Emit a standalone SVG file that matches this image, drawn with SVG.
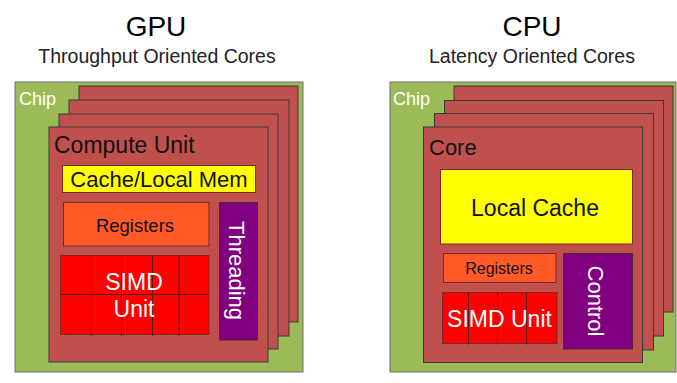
<svg xmlns="http://www.w3.org/2000/svg" width="677" height="383" viewBox="0 0 677 383">
  <style>
    text { font-family: "Liberation Sans", Arial, sans-serif; }
    .title { font-size: 28px; fill: #000; text-anchor: middle; }
    .sub { font-size: 19.5px; fill: #222; text-anchor: middle; }
    .chip { fill: #9BBB59; stroke: #6f6f6f; stroke-width: 1; }
    .chipLbl { font-size: 18px; fill: #fff; }
    .card { fill: #C0504D; stroke: #3a3a3a; stroke-width: 1; }
    .unitLbl { font-size: 22px; fill: #111; }
    .cache { fill: #FFFF00; stroke: #7a2a22; stroke-width: 1; }
    .regs { fill: #FF5A28; stroke: #7a2a22; stroke-width: 1; }
    .simd { fill: #FF0000; stroke: #7a2a22; stroke-width: 1; }
    .grid { stroke: #5a1a14; stroke-width: 1; fill: none; }
    .ctl { fill: #800080; stroke: #4a2a3a; stroke-width: 1; }
    .dark { fill: #111; text-anchor: middle; }
    .light { fill: #fff; text-anchor: middle; }
  </style>

  <!-- Headings -->
  <g id="gpu-title">
    <text class="title" x="156" y="36">GPU</text>
    <text class="sub" x="157" y="63">Throughput Oriented Cores</text>
  </g>
  <g id="cpu-title">
    <text class="title" x="532" y="36">CPU</text>
    <text class="sub" x="532" y="63">Latency Oriented Cores</text>
  </g>

  <!-- GPU chip -->
  <g id="gpu-chip">
    <rect class="chip" x="15" y="82" width="288" height="290"/>
    <text class="chipLbl" x="19" y="105">Chip</text>
  </g>
  <g id="gpu-unit-stack">
    <rect class="card" x="79" y="86" width="219" height="236"/>
    <rect class="card" x="69" y="100" width="220" height="236"/>
    <rect class="card" x="59" y="114" width="219" height="235"/>
  </g>
  <g id="gpu-compute-unit">
    <rect class="card" x="49" y="127" width="219" height="235"/>
    <text class="unitLbl" x="54" y="153" style="font-size:23px">Compute Unit</text>
  </g>
  <g id="gpu-cache">
    <rect class="cache" x="62.5" y="165.5" width="193" height="27"/>
    <text class="dark" x="159" y="186.5" style="font-size:22px">Cache/Local Mem</text>
  </g>
  <g id="gpu-registers">
    <rect class="regs" x="63.5" y="202.5" width="145.5" height="43.5"/>
    <text class="dark" x="135" y="231.5" style="font-size:18.5px">Registers</text>
  </g>
  <g id="gpu-simd">
    <rect class="simd" x="60.5" y="255.5" width="148.5" height="79"/>
    <path class="grid" d="M60.5 294.5H209M91.5 255.5V336M121.5 255.5V336M152.5 255.5V336M179 255.5V336"/>
    <text class="light" x="134" y="290" style="font-size:23px">SIMD</text>
    <text class="light" x="134" y="317" style="font-size:23px">Unit</text>
  </g>
  <g id="gpu-threading">
    <rect class="ctl" x="219.5" y="202.5" width="38" height="137.5"/>
    <text class="light" transform="translate(228.5 270.5) rotate(90)" style="font-size:22px">Threading</text>
  </g>

  <!-- CPU chip -->
  <g id="cpu-chip">
    <rect class="chip" x="390" y="82" width="286" height="290"/>
    <text class="chipLbl" x="393" y="105">Chip</text>
  </g>
  <g id="cpu-core-stack">
    <rect class="card" x="454" y="86" width="219" height="226"/>
    <rect class="card" x="444.5" y="100.5" width="219" height="235.5"/>
    <rect class="card" x="434.5" y="113.5" width="219" height="236.5"/>
  </g>
  <g id="cpu-core">
    <rect class="card" x="423.5" y="127" width="219" height="235.5"/>
    <text class="unitLbl" x="429" y="155">Core</text>
  </g>
  <g id="cpu-cache">
    <rect class="cache" x="440.5" y="169.5" width="192" height="74.5"/>
    <text class="dark" x="535" y="216" style="font-size:23px">Local Cache</text>
  </g>
  <g id="cpu-registers">
    <rect class="regs" x="443.5" y="253.5" width="112.5" height="29"/>
    <text class="dark" x="499" y="274" style="font-size:16px">Registers</text>
  </g>
  <g id="cpu-simd">
    <rect class="simd" x="442.5" y="292.5" width="114.5" height="51"/>
    <path class="grid" d="M468.5 292.5V344.5M497.5 292.5V344.5M526.5 292.5V344.5"/>
    <text class="light" x="499.5" y="327" style="font-size:23px">SIMD Unit</text>
  </g>
  <g id="cpu-control">
    <rect class="ctl" x="563.5" y="253.5" width="69" height="95.5"/>
    <text class="light" transform="translate(587.5 301) rotate(90)" style="font-size:22px">Control</text>
  </g>
</svg>
